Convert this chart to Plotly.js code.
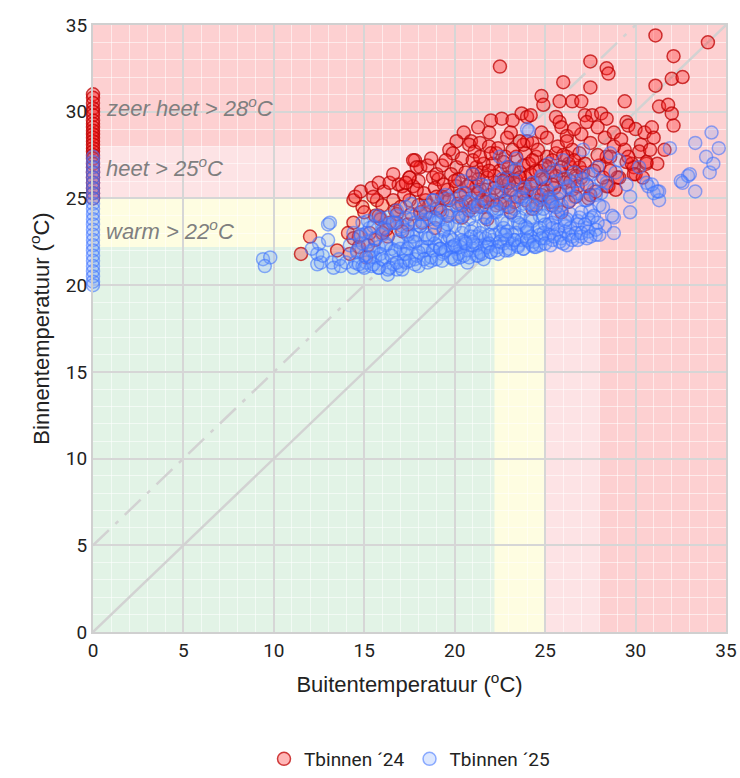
<!DOCTYPE html>
<html>
<head>
<meta charset="utf-8">
<script src="https://cdn.plot.ly/plotly-3.0.1.min.js"></script>
<style>
  body { margin: 0; background: #fff; }
  #plot { width: 740px; height: 778px; }
</style>
</head>
<body>
<div id="plot"></div>
<script>
// Tbinnen '24 : buitentemperatuur (x) vs binnentemperatuur (y)
var x24 = [31.1, 34.0, 32.1, 27.5, 28.4, 28.5, 26.0, 27.5, 31.1, 32.0, 32.6, 29.4, 25.8, 26.5, 27.0, 31.3, 31.8, 32.0, 32.1, 29.5,
  29.6, 30.0, 30.5, 30.9, 31.0, 27.2, 27.6, 28.1, 28.4, 27.3, 27.9, 28.3, 28.8, 28.8, 29.4, 30.3, 30.2, 31.6, 28.4, 28.6,
  29.5, 29.9, 30.6, 30.0, 29.1, 28.5, 27.0, 26.0, 26.4,
  22.5, 24.8, 24.9, 22.0, 22.6, 21.9, 23.2, 23.7, 24.0, 24.2, 25.6, 25.8, 25.9, 20.5, 20.1, 20.9, 23.1, 24.8, 17.8, 18.1,
  18.5, 17.5, 19.7, 19.9, 20.8, 21.1, 21.4, 21.9, 22.3, 22.8, 23.4, 23.9, 24.5, 25.1, 25.6, 26.2, 26.5, 26.9, 17.1, 17.7,
  18.0, 18.8, 19.1, 19.3, 18.4, 17.5, 17.2, 20.1, 20.6, 21.2, 21.5, 22.1, 22.5, 23.0, 23.6, 24.1, 24.7, 25.2, 25.8, 26.3,
  26.9, 20.1, 20.6, 21.2, 21.7, 22.3, 22.8, 23.4, 23.9, 24.5, 25.0, 25.6, 26.1, 26.7, 27.1, 20.2, 20.8, 21.5, 22.1, 22.8,
  23.4, 23.9, 24.7, 25.2, 25.8, 26.5, 26.3, 25.9, 28.4, 29.0, 29.8, 30.6, 29.9,
  11.5, 12.0, 13.5, 14.1, 14.4, 14.5, 14.8, 14.9, 14.4, 14.7, 14.4, 15.4, 15.8, 16.1, 15.7, 16.6, 16.7, 16.2, 16.9, 17.5,
  17.7, 17.9, 15.6, 15.9, 16.4, 16.8, 15.3, 15.6, 16.3, 14.7, 14.2, 15.1, 18.4, 18.2, 19.0, 19.6, 18.9, 17.4, 18.1, 16.8,
  15.8, 21.0, 21.4, 22.8, 19.4, 20.4, 21.8, 23.1, 24.3, 25.4, 26.7, 27.4, 28.0, 24.0, 22.9, 21.3, 19.0, 27.8, 26.2, 23.8];
var y24 = [34.4, 34.0, 33.2, 32.9, 32.5, 32.2, 31.7, 31.4, 31.5, 31.9, 32.0, 30.6, 30.6, 30.6, 30.6, 30.3, 30.4, 29.9, 29.2, 29.4,
  29.2, 29.0, 28.8, 29.1, 28.5, 29.8, 29.8, 29.9, 29.6, 29.4, 29.1, 28.5, 28.8, 28.0, 27.8, 28.1, 27.7, 27.8, 27.4, 27.4,
  27.1, 26.8, 27.0, 26.4, 26.2, 25.7, 26.2, 26.1, 26.8,
  32.6, 30.9, 30.4, 29.5, 29.6, 28.8, 29.5, 29.9, 29.7, 29.8, 29.7, 29.4, 29.1, 28.8, 28.3, 28.3, 28.8, 28.8, 27.2, 26.8,
  26.9, 26.2, 27.8, 27.6, 28.1, 27.7, 28.2, 28.0, 27.6, 27.4, 27.4, 27.6, 27.4, 27.4, 27.6, 27.4, 27.8, 27.6, 25.7, 25.7,
  26.0, 26.2, 26.1, 25.1, 24.9, 24.9, 25.2, 26.8, 26.5, 26.8, 26.5, 27.0, 26.6, 26.8, 26.5, 27.0, 26.6, 26.8, 26.6, 27.0,
  26.8, 25.7, 25.3, 25.7, 25.5, 25.9, 25.7, 26.1, 25.7, 25.9, 26.1, 26.3, 25.9, 26.3, 26.5, 24.7, 24.3, 24.5, 24.9, 24.9,
  25.1, 24.9, 24.9, 25.1, 25.3, 25.5, 24.8, 24.2, 25.7, 26.2, 27.0, 27.1, 26.4,
  21.8, 22.8, 22.0, 23.0, 24.9, 25.1, 25.4, 24.5, 23.6, 22.8, 22.7, 25.6, 25.9, 25.4, 24.9, 24.9, 24.3, 23.2, 25.8, 26.2,
  27.2, 26.8, 24.0, 23.8, 23.6, 23.6, 23.0, 22.6, 22.8, 22.2, 21.8, 21.6, 24.1, 23.6, 24.4, 24.0, 23.3, 23.5, 24.2, 24.1,
  24.0, 24.5, 25.5, 26.1, 25.0, 23.9, 23.8, 24.2, 24.4, 24.6, 25.1, 25.0, 26.9, 28.3, 28.5, 29.1, 26.4, 25.4, 28.6, 28.1];

// extra punten in de dichte rode wolk [x, y]
var extra24 = [
  [18.3, 25.3], [18.6, 24.6], [18.9, 25.6], [19.2, 24.3], [19.4, 25.8], [19.7, 24.9], [19.8, 26.4], [19.3, 26.9], [18.7, 27.3], [19.5, 27.2],
  [20.2, 26.1], [20.4, 27.3], [20.6, 24.8], [20.9, 25.9], [21.0, 27.2], [21.3, 26.1], [21.5, 24.9], [21.6, 27.0], [21.8, 26.2], [21.9, 25.2],
  [20.3, 25.2], [21.1, 24.6], [22.2, 26.3], [22.4, 27.9], [22.6, 25.4], [22.7, 27.1], [22.9, 26.2], [23.1, 25.5], [23.2, 27.8], [23.3, 26.6],
  [23.5, 25.8], [23.6, 28.3], [23.8, 26.9], [23.9, 26.2], [24.0, 25.4], [22.3, 24.6], [23.0, 24.5], [24.2, 26.4], [24.3, 28.2], [24.4, 25.3],
  [24.6, 27.8], [24.8, 26.1], [24.9, 25.5], [25.1, 28.5], [25.3, 26.5], [25.4, 27.2], [25.5, 25.6], [25.7, 28.0], [25.9, 26.8], [26.0, 27.5],
  [24.5, 24.6], [25.3, 24.8], [26.2, 28.3], [26.4, 26.0], [26.6, 27.2], [26.8, 25.7], [27.0, 28.7], [27.2, 27.0], [27.3, 25.8], [27.5, 28.2],
  [27.7, 26.6], [27.9, 27.5], [26.6, 29.0], [27.5, 25.2], [28.2, 26.2], [28.6, 26.6], [29.2, 28.4], [29.6, 27.4], [30.4, 26.2], [30.8, 27.8],
  [28.9, 25.5], [31.2, 27.0], [15.0, 24.2], [15.5, 25.1], [16.0, 24.6], [16.4, 25.9], [17.0, 24.5], [17.3, 25.9], [17.6, 24.1], [17.9, 25.5],
  [16.6, 26.4], [15.2, 22.3], [16.0, 23.0], [17.1, 23.1],
  [19.6, 25.5], [20.0, 26.0], [20.4, 24.6], [20.7, 25.7], [21.0, 26.4], [21.3, 25.3], [21.7, 24.8], [21.9, 26.6], [22.2, 25.6], [22.5, 24.7],
  [22.7, 26.0], [23.0, 25.9], [23.3, 24.8], [23.6, 26.2], [23.8, 25.3], [24.2, 25.8], [24.5, 26.6], [24.8, 25.2], [25.0, 26.9], [25.4, 25.8],
  [19.0, 25.1], [18.0, 24.6], [21.4, 27.4], [22.0, 27.6], [24.3, 27.2]
];

// Tbinnen '24 zonder buitentemperatuur (x = 0)
var stack24 = [31.0, 30.8, 30.5, 30.2, 30.0, 29.8, 29.5, 29.3, 29.1, 28.9, 28.7, 28.5, 28.3, 28.1, 27.9, 27.7, 27.5,
  27.3, 27.0, 26.8, 26.5, 26.2, 25.9, 25.6, 25.3, 25.0];

// Tbinnen '25
var x25 = [9.4, 9.8, 9.5, 13.0, 12.5, 13.0, 12.4, 12.6, 13.2, 13.6, 13.3, 13.7, 14.0, 14.5, 14.4, 14.9, 15.4, 15.8, 16.3, 16.8,
  17.1, 17.3, 12.4, 12.7, 12.1, 13.1,
  14.2, 14.6, 14.8, 15.0, 15.2, 15.3, 15.6, 15.8, 16.0, 16.1, 16.3, 16.5, 16.6, 16.9, 17.0, 17.2, 17.3, 17.5, 17.6, 17.8,
  17.9, 18.0, 18.1, 18.3, 18.4, 18.6, 18.7, 18.9, 19.0, 19.1, 19.3, 19.4, 19.6, 19.7, 19.9, 20.0, 19.5, 18.8, 16.8, 15.9, 14.9,
  20.1, 20.2, 20.3, 20.4, 20.5, 20.6, 20.7, 20.8, 20.9, 21.0, 21.1, 21.2, 21.3, 21.4, 21.5, 21.6, 21.7, 21.8, 21.9, 22.0,
  21.0, 20.4, 22.0,
  22.1, 22.2, 22.3, 22.4, 22.5, 22.6, 22.7, 22.8, 22.9, 23.0, 23.1, 23.2, 23.3, 23.4, 23.5, 23.6, 23.7, 23.8, 23.9, 24.0,
  24.1, 23.4, 22.9, 22.5,
  24.1, 24.2, 24.3, 24.4, 24.5, 24.6, 24.7, 24.8, 24.9, 25.0, 25.1, 25.2, 25.3, 25.4, 25.5, 25.6, 25.7, 25.8, 25.9, 26.0,
  26.2, 25.2, 24.0,
  26.1, 26.3, 26.4, 26.5, 26.7, 26.8, 27.0, 27.1, 27.2, 27.3, 27.4, 27.5, 27.6, 27.7, 27.8, 27.9, 28.0,
  28.2, 28.3, 28.4, 28.8, 28.8, 28.9, 29.5, 29.7, 29.7, 30.2, 30.6, 30.7, 31.0, 31.3, 31.3, 31.9, 32.6, 32.9, 33.3, 33.3,
  33.9, 34.1, 34.2, 34.3, 34.6, 29.1, 28.6, 33.0, 32.5, 30.9, 31.2, 28.7,
  15.5, 16.2, 17.0, 17.7, 18.5, 19.2, 19.8, 20.5, 21.2, 21.9, 22.6, 23.3, 24.0, 24.7, 25.4, 26.1, 26.8, 27.4,
  15.1, 16.0, 16.7, 17.4, 18.2, 18.9, 19.5, 20.3, 21.0, 21.7, 22.4, 23.1, 23.8, 24.5, 25.2, 25.9, 26.6, 27.3, 28.1];
var y25 = [21.5, 21.6, 21.1, 23.5, 22.4, 22.6, 21.2, 21.3, 21.3, 21.5, 21.0, 21.1, 21.3, 21.3, 21.0, 21.1, 21.1, 21.0, 20.6, 20.9,
  20.9, 21.3, 21.8, 21.7, 22.1, 23.6,
  22.3, 22.0, 22.8, 21.7, 22.5, 23.3, 21.6, 22.2, 22.9, 21.4, 23.5, 22.1, 21.2, 22.6, 23.2, 21.8, 24.5, 22.4, 23.8, 21.5,
  22.9, 21.1, 23.4, 22.0, 24.2, 22.7, 21.4, 23.6, 22.3, 24.6, 21.8, 23.1, 22.6, 24.0, 21.5, 23.4, 25.2, 24.9, 24.0, 23.9, 23.6,
  22.1, 24.4, 21.6, 23.0, 25.3, 22.5, 21.3, 23.8, 24.9, 22.0, 23.3, 21.7, 24.5, 22.7, 25.8, 21.5, 23.9, 22.3, 24.8, 21.9,
  26.4, 26.0, 23.5,
  22.6, 24.2, 25.4, 21.8, 23.1, 26.1, 22.4, 24.6, 23.6, 22.0, 25.2, 22.9, 24.0, 26.7, 22.3, 23.5, 25.0, 22.1, 24.4, 23.0,
  28.9, 27.3, 26.8, 27.4,
  22.5, 25.6, 23.7, 22.2, 24.8, 23.2, 22.3, 26.2, 24.0, 22.7, 25.3, 23.5, 24.6, 22.6, 26.6, 23.9, 25.0, 22.9, 24.3, 27.2,
  22.3, 27.0, 29.0,
  23.4, 25.6, 24.1, 22.8, 26.0, 23.7, 22.8, 27.8, 24.9, 23.3, 26.4, 24.3, 23.9, 25.5, 22.9, 26.8, 24.6,
  24.5, 23.4, 25.9, 23.9, 23.0, 26.5, 25.8, 24.2, 25.1, 26.8, 25.9, 25.7, 25.3, 24.9, 25.4, 27.9, 25.9, 26.3, 28.2, 25.4,
  27.4, 26.5, 28.8, 27.0, 27.9, 27.2, 27.6, 26.4, 26.0, 25.8, 25.4, 24.0,
  22.0, 22.4, 22.1, 22.5, 22.2, 22.6, 22.2, 22.5, 22.8, 22.4, 22.9, 22.6, 23.1, 22.9, 23.3, 23.1, 23.5, 23.8,
  23.0, 23.2, 23.6, 23.1, 23.7, 23.9, 23.4, 24.1, 24.3, 23.9, 24.4, 24.2, 24.7, 24.4, 24.8, 24.6, 25.1, 24.9, 25.3];

// extra punten in de dichte blauwe band
var x25b = [14.6, 14.9, 15.1, 15.4, 15.6, 15.9, 16.2, 16.4, 16.7, 16.9, 17.2, 17.4, 17.7, 17.9, 18.2, 18.4, 18.7, 18.9,
  19.2, 19.4, 19.7, 19.9, 20.2, 20.4, 20.7, 20.9, 21.2, 21.4, 21.7, 21.9, 22.2, 22.4, 22.7, 22.9, 23.2, 23.4, 23.7, 23.9,
  24.2, 24.4, 24.7, 24.9, 25.2, 25.4, 25.7, 25.9, 26.2, 26.4, 26.7, 26.9, 27.2, 27.4, 27.7, 27.9];
var y25b = [21.9, 22.4, 21.3, 22.0, 22.7, 21.8, 22.3, 21.0, 22.0, 22.5, 21.4, 22.1, 22.8, 21.7, 22.2, 22.9, 21.6, 22.4,
  22.1, 21.9, 22.8, 22.2, 21.8, 22.6, 22.0, 23.1, 22.3, 21.9, 22.7, 22.4, 22.9, 22.2, 23.3, 22.6, 22.4, 23.0, 22.6, 23.4,
  22.8, 22.5, 23.3, 23.0, 22.9, 23.6, 23.2, 22.7, 23.8, 23.3, 23.0, 23.9, 23.5, 23.1, 24.0, 23.6];
var x25c = [14.4, 14.8, 15.2, 15.5, 15.7, 16.1, 16.3, 16.6, 16.8, 17.1, 17.3, 17.6, 17.8, 18.1, 18.3, 18.6, 18.8, 19.1,
  19.3, 19.6, 19.8, 20.1, 20.3, 20.6, 20.8, 21.1, 21.3, 21.6, 21.8, 22.1, 22.3, 22.6, 22.8, 23.1, 23.3, 23.6, 23.8, 24.1,
  24.3, 24.6, 24.8, 25.1, 25.3, 25.6, 25.8, 26.1, 26.3, 26.6, 26.8, 27.1, 27.3, 27.6, 27.8, 28.1];
var y25c = [23.0, 22.9, 23.7, 23.4, 24.0, 23.3, 23.9, 23.6, 24.3, 23.4, 23.9, 24.7, 23.6, 24.1, 24.5, 23.8, 24.9, 23.7,
  24.2, 25.0, 24.3, 24.6, 25.1, 24.1, 24.8, 25.4, 24.6, 25.0, 25.7, 24.4, 25.3, 25.9, 24.8, 25.5, 26.0, 25.1, 25.6, 24.7,
  25.9, 25.2, 26.3, 25.6, 25.0, 26.0, 25.4, 26.2, 25.7, 26.5, 25.3, 26.1, 25.8, 26.4, 25.2, 26.0];
var x25d = [14.7, 15.0, 15.3, 15.5, 15.8, 16.0, 16.3, 16.5, 16.8, 17.0, 17.3, 17.5, 17.8, 18.0, 18.3, 18.5, 18.8, 19.0,
  19.3, 19.5, 19.8, 20.0, 20.3, 20.5, 20.8, 21.0, 21.3, 21.5, 21.8, 22.0, 22.3, 22.5, 22.8, 23.0, 23.3, 23.5, 23.8, 24.0,
  24.3, 24.5, 24.8, 25.0, 25.3, 25.5, 25.8, 26.0, 26.3, 26.5, 26.8, 27.0, 27.3, 27.5, 27.8, 28.0];
var y25d = [21.2, 21.0, 21.6, 21.2, 21.0, 21.5, 20.9, 21.7, 21.3, 21.1, 21.8, 21.4, 21.2, 21.9, 21.5, 21.3, 22.0, 21.5,
  21.4, 22.0, 21.6, 21.5, 22.2, 21.7, 21.6, 22.3, 21.7, 21.8, 22.2, 21.9, 22.0, 22.5, 22.0, 22.1, 22.6, 22.2, 22.1, 22.6,
  22.3, 22.2, 22.7, 22.4, 22.3, 22.8, 22.5, 22.4, 22.9, 22.6, 22.6, 23.0, 22.7, 22.8, 23.2, 22.9];
var x25e = [17.4, 18.1, 18.5, 19.0, 19.4, 19.9, 20.2, 20.5, 20.9, 21.2, 21.6, 21.9, 22.3, 22.6, 22.9, 23.3, 23.6, 24.0,
  24.3, 24.7, 25.0, 25.4, 25.7, 26.1, 17.8, 18.8, 19.6, 20.6, 21.4, 22.1, 22.8, 23.5, 24.2, 24.9, 25.6, 26.4, 27.0,
  19.2, 20.0, 21.0];
var y25e = [22.9, 23.4, 22.7, 23.8, 23.2, 22.6, 23.9, 23.3, 22.8, 24.1, 23.5, 22.9, 24.2, 23.7, 23.1, 24.4, 23.9, 23.3,
  24.6, 24.0, 23.5, 24.8, 24.1, 23.7, 22.5, 22.9, 23.5, 22.4, 23.0, 23.6, 22.9, 23.6, 23.9, 24.4, 24.5, 24.9, 24.2,
  22.1, 22.3, 22.5];

// Tbinnen '25 zonder buitentemperatuur (x = 0)
var stack25 = [27.4, 27.1, 26.8, 26.5, 26.2, 25.9, 25.6, 25.3, 25.0, 24.7, 24.4, 24.1, 23.8, 23.5, 23.2, 22.9, 22.6,
  22.3, 22.0, 21.7, 21.4, 21.1, 20.8, 20.5, 20.2, 20.0];

// hulplijnen
var diagX = [0, 35], diagY = [0, 35];
var offX = [0, 30], offY = [5, 35];

// zones (grenzen in ºC)
var zoneNames = ['zeer heet > 28<sup>o</sup>C', 'heet > 25<sup>o</sup>C', 'warm > 22<sup>o</sup>C'];
var zoneLabelY = [30.3, 26.8, 23.2];
var zoneLimits = [35, 28, 25, 22.2];
var zoneColors = ['#fdd0d1', '#fde3e5', '#fefde1', '#e2f3e6'];

var zeros24 = stack24.map(function () { return 0; });
var zeros25 = stack25.map(function () { return 0; });

var all24x = zeros24.concat(x24, extra24.map(function (p) { return p[0]; }));
var all24y = stack24.concat(y24, extra24.map(function (p) { return p[1]; }));
var all25x = zeros25.concat(x25, x25b, x25c, x25d, x25e);
var all25y = stack25.concat(y25, y25b, y25c, y25d, y25e);

var traces = [
  { x: diagX, y: diagY, mode: 'lines', line: { color: '#d2d2d2', width: 2.5 }, showlegend: false, hoverinfo: 'skip' },
  { x: offX, y: offY, mode: 'lines', line: { color: '#d2d2d2', width: 2.5, dash: '22px,9px,4px,9px' }, showlegend: false, hoverinfo: 'skip' },
  {
    x: all24x, y: all24y,
    mode: 'markers', type: 'scatter', name: 'Tbinnen ´24', cliponaxis: false,
    marker: { size: 13, color: 'rgba(255,30,30,0.32)', line: { color: 'rgba(190,0,0,0.75)', width: 1.5 } }
  },
  {
    x: all25x, y: all25y,
    mode: 'markers', type: 'scatter', name: 'Tbinnen ´25', cliponaxis: false,
    marker: { size: 13, color: 'rgba(110,155,255,0.24)', line: { color: 'rgba(55,110,255,0.55)', width: 1.5 } }
  }
];

// achtergrondzones: vierkanten vanaf de oorsprong, groot (rood) naar klein (groen)
var shapes = zoneLimits.map(function (lim, i) {
  return { type: 'rect', xref: 'x', yref: 'y', x0: 0, x1: lim, y0: 0, y1: lim, fillcolor: zoneColors[i], line: { width: 0 }, layer: 'below' };
});

var annotations = zoneNames.map(function (t, i) {
  return {
    text: t, x: 0.6, y: zoneLabelY[i], xref: 'x', yref: 'y', xanchor: 'left', yanchor: 'middle', showarrow: false,
    font: { family: 'Liberation Sans, Arial, sans-serif', size: 22, color: '#7f7f7f', style: 'italic' }
  };
});

var tickFont = { family: 'Roboto, sans-serif', size: 19, color: '#222' };
var titleFont = { family: 'Liberation Sans, Arial, sans-serif', size: 22, color: '#222' };

var layout = {
  width: 740, height: 778,
  margin: { l: 93, r: 14, t: 25, b: 146 },
  paper_bgcolor: '#fff', plot_bgcolor: '#fff',
  showlegend: true,
  legend: {
    orientation: 'h', x: 0.5, xanchor: 'center', xref: 'paper', y: 0.0, yanchor: 'bottom', yref: 'container',
    font: { family: 'Roboto, sans-serif', size: 19, color: '#222' }
  },
  xaxis: {
    range: [0, 35], dtick: 5, tick0: 0, showgrid: true, gridcolor: '#d6d6d6', gridwidth: 2,
    minor: { dtick: 1, showgrid: true, gridcolor: 'rgba(255,255,255,0.55)', gridwidth: 1 },
    zeroline: false, showline: true, linecolor: '#d0d0d0', linewidth: 2, mirror: true,
    ticks: '', tickfont: tickFont, automargin: false,
    title: { text: 'Buitentemperatuur (<sup>o</sup>C)', standoff: 16, font: titleFont }
  },
  yaxis: {
    range: [0, 35], dtick: 5, tick0: 0, showgrid: true, gridcolor: '#d6d6d6', gridwidth: 2,
    minor: { dtick: 1, showgrid: true, gridcolor: 'rgba(255,255,255,0.55)', gridwidth: 1 },
    zeroline: false, showline: true, linecolor: '#d0d0d0', linewidth: 2, mirror: true,
    ticks: '', tickfont: tickFont, automargin: false,
    title: { text: 'Binnentemperatuur (<sup>o</sup>C)', standoff: 10, font: titleFont }
  },
  shapes: shapes,
  annotations: annotations
};

Plotly.newPlot('plot', traces, layout, { displayModeBar: false, staticPlot: true });
</script>
</body>
</html>
